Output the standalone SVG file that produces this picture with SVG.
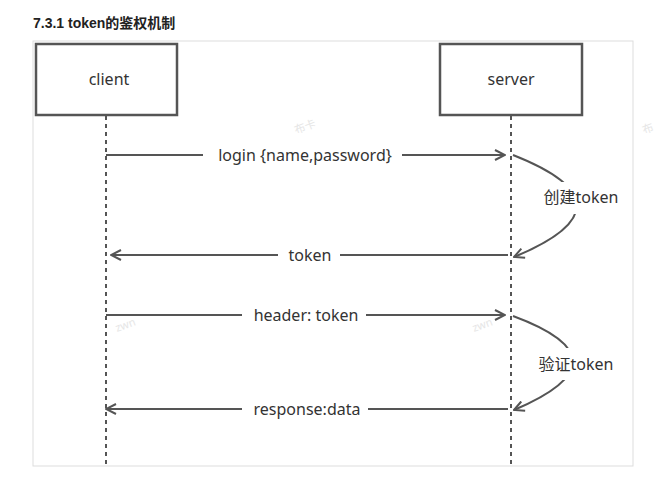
<svg xmlns="http://www.w3.org/2000/svg" width="658" height="484" viewBox="0 0 658 484">
<defs>
<style>
.title{font-family:"Liberation Sans","Noto Sans CJK SC",sans-serif;font-weight:bold;font-size:14px;fill:#222}
.box{fill:#fff;stroke:#555;stroke-width:2.5}
.life{stroke:#555;stroke-width:2;stroke-dasharray:4 4;fill:none}
.msg{stroke:#555;stroke-width:2;fill:none}
.lbl{font-family:"Noto Sans","Noto Sans CJK SC",sans-serif;font-size:16px;fill:#333;text-anchor:middle}
.wm{font-family:"Noto Sans","Noto Sans CJK SC",sans-serif;font-size:11px;fill:#e6e6e6}
</style>
<marker id="arr" viewBox="0 0 12 12" refX="11" refY="6" markerWidth="12" markerHeight="12" markerUnits="userSpaceOnUse" orient="auto">
<path d="M1,1 L11,6 L1,11" fill="none" stroke="#555" stroke-width="2"/>
</marker>
</defs>
<rect width="658" height="484" fill="#fff"/>
<text class="title" x="33" y="28">7.3.1 token的鉴权机制</text>
<rect x="33" y="41" width="600" height="425" fill="none" stroke="#ddd" stroke-width="1"/>
<g id="watermarks">
<text class="wm" x="296" y="134" transform="rotate(-20 296 134)">布卡</text>
<text class="wm" x="644" y="134" transform="rotate(-20 644 134)">布</text>
<text class="wm" x="117" y="332" transform="rotate(-20 117 332)">zwn</text>
<text class="wm" x="474" y="332" transform="rotate(-20 474 332)">zwn</text>
</g>
<g id="client">
<rect class="box" x="36" y="44" width="141" height="71"/>
<text class="lbl" x="109" y="85">client</text>
</g>
<g id="server">
<rect class="box" x="440" y="44" width="142" height="71"/>
<text class="lbl" x="511" y="85">server</text>
</g>
<g id="connectors">
<line class="life" x1="106" y1="116" x2="106" y2="466"/>
<line class="life" x1="511" y1="116" x2="511" y2="466"/>

<line class="msg" x1="106" y1="155" x2="203" y2="155"/>
<line class="msg" x1="402" y1="155" x2="505" y2="155" marker-end="url(#arr)"/>
<text class="lbl" x="305" y="161">login {name,password}</text>

<line class="msg" x1="278" y1="255" x2="111" y2="255" marker-end="url(#arr)"/>
<line class="msg" x1="340" y1="255" x2="508" y2="255"/>
<text class="lbl" x="310" y="261">token</text>

<line class="msg" x1="106" y1="315" x2="242" y2="315"/>
<line class="msg" x1="366" y1="315" x2="505" y2="315" marker-end="url(#arr)"/>
<text class="lbl" x="306" y="321">header: token</text>

<line class="msg" x1="242" y1="409" x2="106" y2="409" marker-end="url(#arr)"/>
<line class="msg" x1="368" y1="409" x2="508" y2="409"/>
<text class="lbl" x="307" y="415">response:data</text>

<path class="msg" d="M513,155 Q640,205 514,257" marker-end="url(#arr)"/>
<rect x="540" y="182" width="82" height="32" fill="#fff"/>
<text class="lbl" x="581" y="203">创建token</text>

<path class="msg" d="M513,316 Q632,360 514,410" marker-end="url(#arr)"/>
<rect x="535" y="348" width="82" height="32" fill="#fff"/>
<text class="lbl" x="576" y="370">验证token</text>
</g>
</svg>
